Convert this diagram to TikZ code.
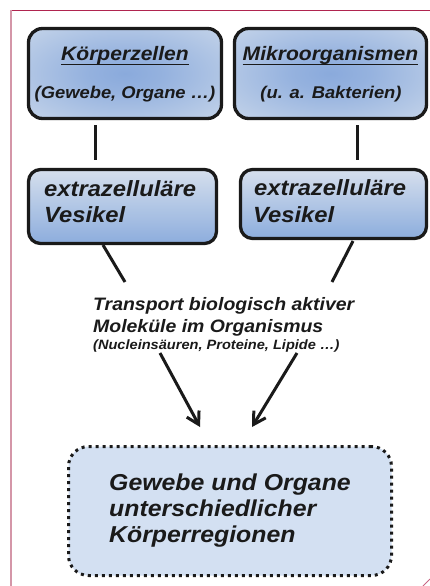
\documentclass[tikz,border=0pt]{standalone}
\usepackage{fontspec}
\setmainfont{Liberation Sans}[FakeStretch=1.08]
\usetikzlibrary{arrows.meta,calc}
\definecolor{glowin}{RGB}{138,170,220}
\definecolor{glowout}{RGB}{212,223,237}
\definecolor{vtop}{RGB}{214,223,237}
\definecolor{vbot}{RGB}{140,173,221}
\definecolor{goalfill}{RGB}{211,224,242}
\definecolor{frametop}{RGB}{176,36,79}
\definecolor{frameleft}{RGB}{212,150,168}
\definecolor{ink}{RGB}{26,26,26}
\pgfdeclareradialshading{boxglow}{\pgfpoint{0bp}{0bp}}{color(0bp)=(glowin); color(10bp)=(glowin!85!glowout); color(45bp)=(glowout); color(80bp)=(glowout)}
\tikzset{
  srcbox/.style={draw=ink, line width=3.3pt, rounded corners=14pt, shading=boxglow, inner sep=0pt},
  evbox/.style={draw=ink, line width=3.3pt, rounded corners=12pt, top color=vtop, bottom color=vbot, inner sep=0pt},
  goalbox/.style={draw=ink, line width=3pt, dash pattern=on 3pt off 4pt, rounded corners=20pt, fill=goalfill, inner sep=0pt},
  txt/.style={font=\bfseries\itshape, text=ink, inner sep=0pt, anchor=base west},
  ctxt/.style={txt, anchor=base},
  conn/.style={draw=ink, line width=3pt},
  arr/.style={conn, -{Straight Barb[length=12pt,width=14pt]}},
  uline/.style={draw=ink, line width=1.8pt}
}
\begin{document}
\begin{tikzpicture}[x=1pt,y=-1pt]
\useasboundingbox (0,0) rectangle (430,586);
% frame
\draw[frametop, line width=1.5pt] (10,10.5) -- (430,10.5);
\draw[frameleft, line width=2pt] (11,10) -- (11,586);
\draw[frametop!70, line width=1pt] (423,586) -- (430,579);
% boxes
\node[srcbox, minimum width=193pt, minimum height=90pt] (src1) at (125,73.5) {};
\node[srcbox, minimum width=192pt, minimum height=90pt] (src2) at (330.5,73.5) {};
\node[evbox, minimum width=188pt, minimum height=74pt] (ev1) at (122.5,206.5) {};
\node[evbox, minimum width=186pt, minimum height=69pt] (ev2) at (333.5,204) {};
\node[goalbox, minimum width=323pt, minimum height=129pt] (goal) at (230,511) {};
% top texts
\node[ctxt, font=\fontsize{19.5}{23}\bfseries\itshape\selectfont] (k1) at (125,61) {Körperzellen};
\node[ctxt, font=\fontsize{17}{20}\bfseries\itshape\selectfont] (k2) at (125,98) {(Gewebe, Organe …)};
\node[ctxt, font=\fontsize{19.5}{23}\bfseries\itshape\selectfont] (m1) at (330.5,61) {Mikroorganismen};
\node[ctxt, font=\fontsize{17}{20}\bfseries\itshape\selectfont] (m2) at (331,98) {(u. a. Bakterien)};
\draw[uline] ($(k1.base west)+(0,3.5)$) -- ($(k1.base east)+(0,3.5)$);
\draw[uline] ($(m1.base west)+(0,3.5)$) -- ($(m1.base east)+(0,3.5)$);
% vesicle texts
\node[txt, font=\fontsize{22}{26}\bfseries\itshape\selectfont] (e1a) at (44,196) {extrazelluläre};
\node[txt, font=\fontsize{22}{26}\bfseries\itshape\selectfont] (e1b) at (44,222) {Vesikel};
\node[txt, font=\fontsize{22}{26}\bfseries\itshape\selectfont] (e2a) at (254,195) {extrazelluläre};
\node[txt, font=\fontsize{22}{26}\bfseries\itshape\selectfont] (e2b) at (253,222) {Vesikel};
% middle text
\node[txt, font=\fontsize{18}{22}\bfseries\itshape\selectfont] (t1) at (93,310) {Transport biologisch aktiver};
\node[txt, font=\fontsize{18}{22}\bfseries\itshape\selectfont] (t2) at (93,332) {Moleküle im Organismus};
\node[txt, font=\fontsize{13.5}{16}\bfseries\itshape\selectfont] (t3) at (93,349) {(Nucleinsäuren, Proteine, Lipide …)};
% goal text
\node[txt, font=\fontsize{23}{26}\bfseries\itshape\selectfont] (g1) at (109,490) {Gewebe und Organe};
\node[txt, font=\fontsize{23}{26}\bfseries\itshape\selectfont] (g2) at (109,516) {unterschiedlicher};
\node[txt, font=\fontsize{23}{26}\bfseries\itshape\selectfont] (g3) at (109,542) {Körperregionen};
% connector end points
\coordinate (v1a) at (95,125);
\coordinate (v1b) at (95,160);
\coordinate (v2a) at (357,125);
\coordinate (v2b) at (357,160);
\coordinate (d1a) at (103,245);
\coordinate (d1b) at (125,282);
\coordinate (d2a) at (353,241);
\coordinate (d2b) at (332,282);
\coordinate (a1a) at (160,353);
\coordinate (a1b) at (200,427);
\coordinate (a2a) at (297,353);
\coordinate (a2b) at (252,427);
\draw[conn] (v1a) -- (v1b);
\draw[conn] (v2a) -- (v2b);
\draw[conn] (d1a) -- (d1b);
\draw[conn] (d2a) -- (d2b);
\draw[arr] (a1a) -- (a1b);
\draw[arr] (a2a) -- (a2b);
\end{tikzpicture}
\end{document}
